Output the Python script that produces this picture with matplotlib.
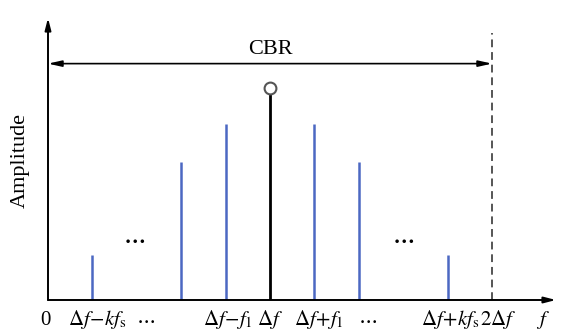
import matplotlib
matplotlib.use('Agg')
import matplotlib.pyplot as plt

plt.rcParams['font.family'] = ['Liberation Serif', 'DejaVu Serif']
plt.rcParams['mathtext.fontset'] = 'stix'

# spectral lines: offset from delta f (units of delta f) and amplitude
DELTA_F = 1.0
side_offsets = [-0.8, -0.4, -0.2, 0.2, 0.4, 0.8]
side_amps = [0.21, 0.65, 0.83, 0.83, 0.65, 0.21]
center_amp = 1.0
cbr_top = 1.26
cbr_arrow_y = 1.115

tick_pos = [-0.01, 0.22, 0.44, 0.81, 1.0, 1.22, 1.44, 1.81, 2.03, 2.23]
tick_labels = ['0', r'$\Delta f\!-\!kf_{\rm s}$', r'$\cdots$', r'$\Delta f\!-\!f_1$',
               r'$\Delta f$', r'$\Delta f\!+\!f_1$', r'$\cdots$',
               r'$\Delta f\!+\!kf_{\rm s}$', r'$2\Delta f$', r'$f$']

blue = '#4c68c2'
FS = 15

fig = plt.figure(figsize=(5.74, 3.34), dpi=100)
ax = fig.add_axes([48 / 574, 34 / 334, 512 / 574, 286 / 334])
ax.set_xlim(0, 512 / 222)
ax.set_ylim(0, 286 / 212)
ax.axis('off')

# axes with arrows
arr = dict(arrowstyle='-|>,head_length=0.7,head_width=0.18', color='black', lw=1.4,
           shrinkA=0, shrinkB=0)
ax.annotate('', xy=(508 / 222, 0), xytext=(0, 0), xycoords='data', arrowprops=arr,
            annotation_clip=False)
ax.annotate('', xy=(0, 282 / 212), xytext=(0, 0), xycoords='data', arrowprops=arr,
            annotation_clip=False)

# side lines
for off, a in zip(side_offsets, side_amps):
    ax.vlines(DELTA_F + off, 0, a, color=blue, lw=1.8)

# carrier
ax.vlines(DELTA_F, 0, center_amp - 0.025, color='black', lw=2)
ax.plot([DELTA_F], [center_amp], 'o', mfc='white', mec='#555555', mew=1.5, ms=8.5)

# bandwidth boundary
ax.vlines(2 * DELTA_F, 0, cbr_top, color='#555555', lw=1.4, linestyles=(0, (4, 2.5)))

# CBR double arrow
ax.annotate('', xy=(0, cbr_arrow_y), xytext=(2 * DELTA_F, cbr_arrow_y),
            arrowprops=dict(arrowstyle='<|-|>,head_length=0.8,head_width=0.18',
                            color='black', lw=1.2, shrinkA=0, shrinkB=0))
ax.text(DELTA_F, 1.18, 'CBR', ha='center', va='center', fontsize=16)

# dots between lines
ax.text(0.39, 0.285, r'$\mathbf{\cdots}$', ha='center', va='center', fontsize=FS,
        fontweight='bold')
ax.text(1.6, 0.285, r'$\mathbf{\cdots}$', ha='center', va='center', fontsize=FS,
        fontweight='bold')

# tick labels (baseline about 25 px under the axis)
for x, lab in zip(tick_pos, tick_labels):
    ax.text(x, -25 / 212, lab, ha='center', va='baseline', fontsize=FS, clip_on=False)

ax.text(-0.126, 0.66, 'Amplitude', rotation=90, ha='center', va='center', fontsize=16)

fig.savefig('out.png', dpi=100)
